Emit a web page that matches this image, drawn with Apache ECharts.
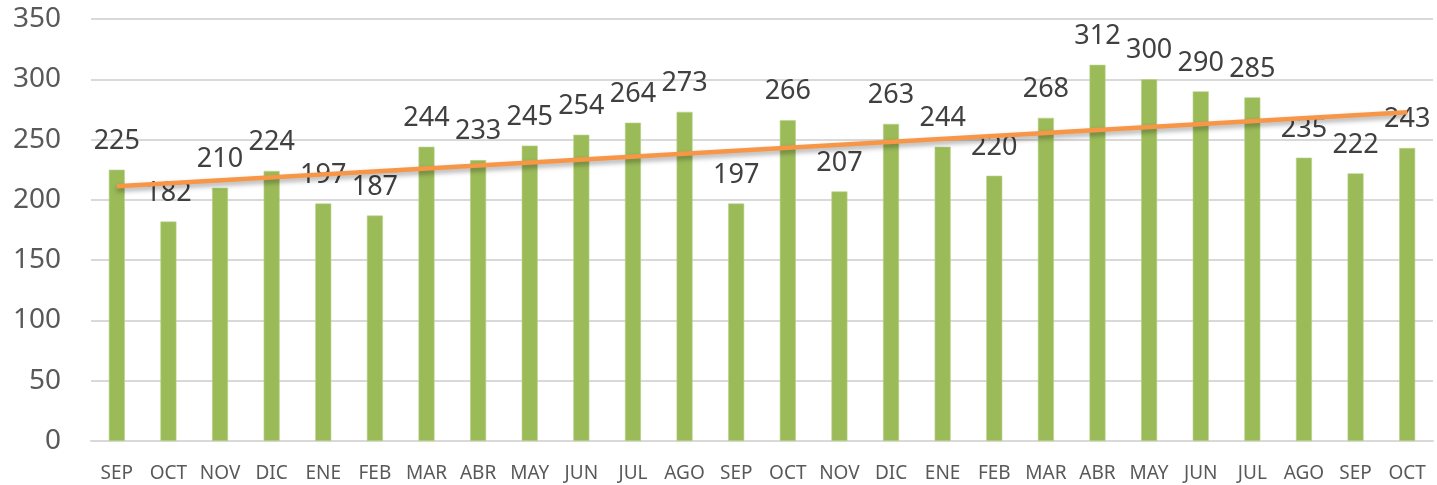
<!DOCTYPE html>
<html>
<head>
<meta charset="utf-8">
<script src="https://cdn.jsdelivr.net/npm/echarts@6/dist/echarts.min.js"></script>
<style>html,body{margin:0;padding:0;background:#fff;}#c{width:1437px;height:485px;}</style>
</head>
<body>
<div id="c"></div>
<script>
const categories = ['SEP','OCT','NOV','DIC','ENE','FEB','MAR','ABR','MAY','JUN','JUL','AGO','SEP','OCT','NOV','DIC','ENE','FEB','MAR','ABR','MAY','JUN','JUL','AGO','SEP','OCT'];
const values = [225,182,210,224,197,187,244,233,245,254,264,273,197,266,207,263,244,220,268,312,300,290,285,235,222,243];
// trendline endpoints (first and last category)
const trendStart = 211.3;
const trendEnd = 272.6;
const yTicks = [0,50,100,150,200,250,300,350];

const chart = echarts.init(document.getElementById('c'));
chart.setOption({
  animation: false,
  grid: {left: 91, right: 4, top: 19, bottom: 44, containLabel: false},
  xAxis: [{
    type: 'category',
    data: categories,
    axisLine: {show: true, lineStyle: {color: '#D9D9D9', width: 2}},
    axisTick: {show: false},
    axisLabel: {color: '#595959', fontFamily: 'Noto Sans', fontSize: 19, margin: 23, interval: 0}
  }, {
    type: 'value',
    min: -0.5,
    max: categories.length - 0.5,
    show: false
  }],
  yAxis: {
    type: 'value',
    min: yTicks[0],
    max: yTicks[yTicks.length - 1],
    interval: 50,
    axisLine: {show: false},
    axisTick: {show: false},
    splitLine: {lineStyle: {color: '#D9D9D9', width: 2}},
    axisLabel: {color: '#595959', fontFamily: 'Noto Sans', fontSize: 28, margin: 30}
  },
  series: [{
    type: 'bar',
    data: values,
    barWidth: 16,
    z: 2,
    itemStyle: {color: '#9BBB59', borderColor: '#B9D48A', borderWidth: 0.6},
    label: {
      show: true,
      position: 'top',
      distance: 15,
      color: '#404040',
      fontFamily: 'Noto Sans',
      fontSize: 27
    }
  }, {
    type: 'line',
    xAxisIndex: 1,
    data: [[0, trendStart], [categories.length - 1, trendEnd]],
    symbol: 'none',
    z: 5,
    lineStyle: {color: '#F79646', width: 4.5, shadowColor: 'rgba(0,0,0,0.35)', shadowBlur: 5, shadowOffsetY: 3}
  }]
});
</script>
</body>
</html>
